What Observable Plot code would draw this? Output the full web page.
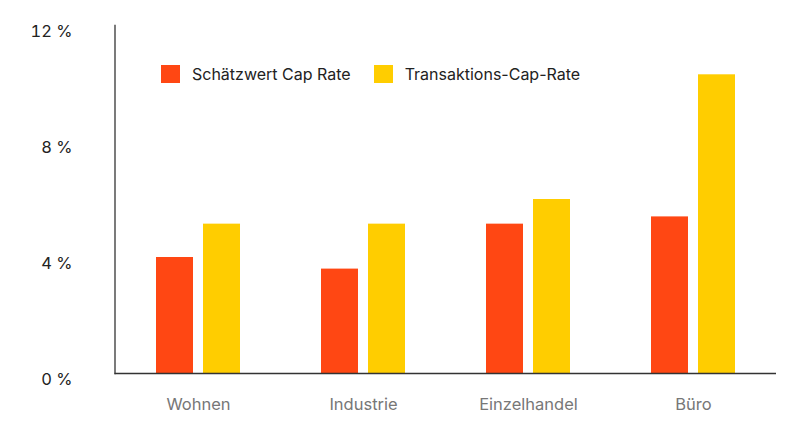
<!DOCTYPE html>
<html>
<head>
<meta charset="utf-8">
<script src="https://cdn.jsdelivr.net/npm/d3@7"></script>
<script src="https://cdn.jsdelivr.net/npm/@observablehq/plot@0.6"></script>
<style>
  html, body { margin: 0; padding: 0; background: #fff; }
  #wrap { position: relative; width: 800px; height: 444px; font-family: Inter, "Noto Sans", sans-serif; }
  #legend { position: absolute; left: 161px; top: 64px; display: flex; align-items: center; font-size: 16px; color: #222; }
  .item { display: flex; align-items: center; margin-right: 23px; }
  .sw { width: 19px; height: 18px; margin-right: 12px; }
</style>
</head>
<body>
<div id="wrap"><div id="legend"></div></div>
<script>
const categories = ["Wohnen", "Industrie", "Einzelhandel", "Büro"];
const series = ["Schätzwert Cap Rate", "Transaktions-Cap-Rate"];
const estimateRate = [4.0, 3.6, 5.15, 5.4];
const transactionRate = [5.15, 5.15, 6.0, 10.3];
const yTicks = [0, 4, 8, 12];
const colors = ["#ff4713", "#ffcd00"];

const data = categories.map((c, i) => ({cat: c, est: estimateRate[i], tr: transactionRate[i]}));

const chart = Plot.plot({
  width: 800,
  height: 444,
  marginLeft: 114.5,
  marginRight: 24,
  marginTop: 25,
  marginBottom: 71,
  style: {fontFamily: "Inter, 'Noto Sans', sans-serif", background: "#fff"},
  x: {domain: categories, paddingInner: 0.49, paddingOuter: 0.245, label: null},
  y: {domain: [0, 12], label: null},
  marks: [
    Plot.barY(data, {x: "cat", y: "est", fill: colors[0], insetRight: 47}),
    Plot.barY(data, {x: "cat", y: "tr", fill: colors[1], insetLeft: 47}),
    Plot.ruleY([0], {stroke: "#333", strokeWidth: 1.3}),
    Plot.frame({anchor: "left", stroke: "#333", strokeWidth: 1.3}),
    Plot.axisY({ticks: yTicks, tickSize: 0, tickPadding: 42.5, tickFormat: d => d + " %", fontSize: 16.5, color: "#222", dy: 6.3, label: null}),
    Plot.axisX({tickSize: 0, tickPadding: 25, fontSize: 16.5, color: "#777", label: null})
  ]
});
document.getElementById("wrap").prepend(chart);

const legend = document.getElementById("legend");
series.forEach((s, i) => {
  const it = document.createElement("div");
  it.className = "item";
  it.innerHTML = `<div class="sw" style="background:${colors[i]}"></div><span>${s}</span>`;
  legend.appendChild(it);
});
</script>
</body>
</html>
